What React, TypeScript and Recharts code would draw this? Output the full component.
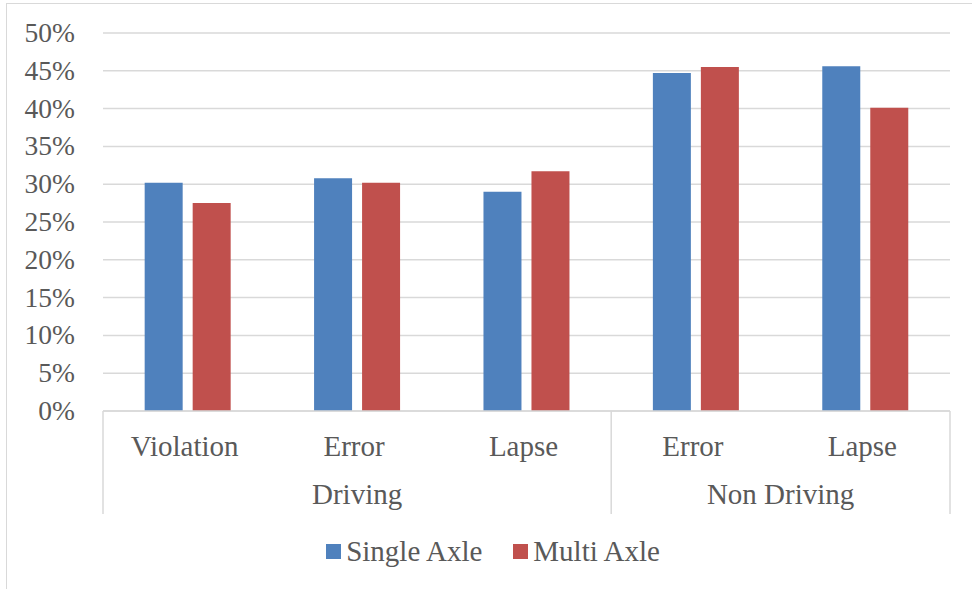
import React from "react"
import { BarChart, Bar, XAxis, YAxis, CartesianGrid, Legend } from "recharts"

const categories = ["Violation", "Error", "Lapse", "Error", "Lapse"]
const singleAxle = [30.2, 30.8, 29.0, 44.7, 45.6]
const multiAxle = [27.5, 30.2, 31.7, 45.5, 40.1]
const groupNames = ["Driving", "Non Driving"]
const groupSizes = [3, 2]
const yTicks = [0, 5, 10, 15, 20, 25, 30, 35, 40, 45, 50]

const seriesNames = ["Single Axle", "Multi Axle"]
const BLUE = "#4F81BD"
const RED = "#C0504D"
const TEXT = "#595959"
const LINE = "#d9d9d9"
const FONT = '"Liberation Serif", "Times New Roman", serif'

const data = categories.map((label, i) => ({
  label,
  single: singleAxle[i],
  multi: multiAxle[i],
}))

// index of the first category in each group
const groupStarts: number[] = []
groupSizes.reduce((acc, n) => {
  groupStarts.push(acc)
  return acc + n
}, 0)

const AXIS_H = 103

function YTick(props: any) {
  const { x, y, payload } = props
  return (
    <text x={x} y={y} dy={9} textAnchor="end" fill={TEXT} fontSize={27.5} fontFamily={FONT}>
      {payload.value}%
    </text>
  )
}

// two-level category tick: sub label, plus group dividers and group label
function CatTick(props: any) {
  const { x, y, payload, width, index } = props
  const band = width / categories.length
  const left = x - band / 2
  const g = groupStarts.indexOf(index)
  const isLast = index === categories.length - 1
  return (
    <g>
      <text x={x - 3} y={y + 45} textAnchor="middle" fill={TEXT} fontSize={29} fontFamily={FONT}>
        {payload.value}
      </text>
      {g >= 0 && (
        <>
          <line x1={left} x2={left} y1={y} y2={y + AXIS_H} stroke={LINE} strokeWidth={1.5} />
          <text
            x={left + (band * groupSizes[g]) / 2}
            y={y + 93}
            textAnchor="middle"
            fill={TEXT}
            fontSize={29}
            fontFamily={FONT}
          >
            {groupNames[g]}
          </text>
        </>
      )}
      {isLast && (
        <line x1={x + band / 2} x2={x + band / 2} y1={y} y2={y + AXIS_H} stroke={LINE} strokeWidth={1.5} />
      )}
    </g>
  )
}

function LegendContent() {
  const colors = [BLUE, RED]
  return (
    <div
      style={{
        height: 75,
        display: "flex",
        alignItems: "center",
        justifyContent: "center",
        paddingLeft: 14,
        fontFamily: FONT,
        fontSize: 29,
        color: TEXT,
        lineHeight: "29px",
      }}
    >
      {seriesNames.map((n, i) => (
        <div key={n} style={{ display: "flex", alignItems: "center", marginLeft: i ? 31 : 0 }}>
          <span style={{ width: 15, height: 15, background: colors[i], marginRight: 5, display: "inline-block" }} />
          <span>{n}</span>
        </div>
      ))}
    </div>
  )
}

export default function App() {
  return (
    <div style={{ position: "absolute", left: 0, top: 0, width: 972, height: 589, overflow: "hidden", background: "#fff" }}>
      <div
        style={{
          position: "absolute",
          left: 6,
          top: 3,
          width: 990,
          height: 610,
          border: `1px solid ${LINE}`,
        }}
      />
      <BarChart
        width={972}
        height={589}
        data={data}
        margin={{ top: 33, right: 22, left: 0, bottom: 0 }}
        barCategoryGap="24.6%"
        barGap={10}
      >
        <CartesianGrid vertical={false} stroke={LINE} strokeWidth={1.5} />
        <YAxis
          domain={[0, 50]}
          ticks={yTicks}
          width={103}
          axisLine={false}
          tickLine={false}
          tickSize={0}
          tickMargin={28}
          tick={<YTick />}
          interval={0}
        />
        <XAxis
          dataKey="label"
          height={AXIS_H}
          axisLine={{ stroke: LINE, strokeWidth: 1.5 }}
          tickLine={false}
          tickSize={0}
          tickMargin={0}
          tick={<CatTick />}
          interval={0}
        />
        <Legend
          verticalAlign="bottom"
          content={<LegendContent />}
          wrapperStyle={{ left: 0, width: 972, height: 75 }}
        />
        <Bar dataKey="single" name={seriesNames[0]} fill={BLUE} isAnimationActive={false} />
        <Bar dataKey="multi" name={seriesNames[1]} fill={RED} isAnimationActive={false} />
      </BarChart>
    </div>
  )
}
